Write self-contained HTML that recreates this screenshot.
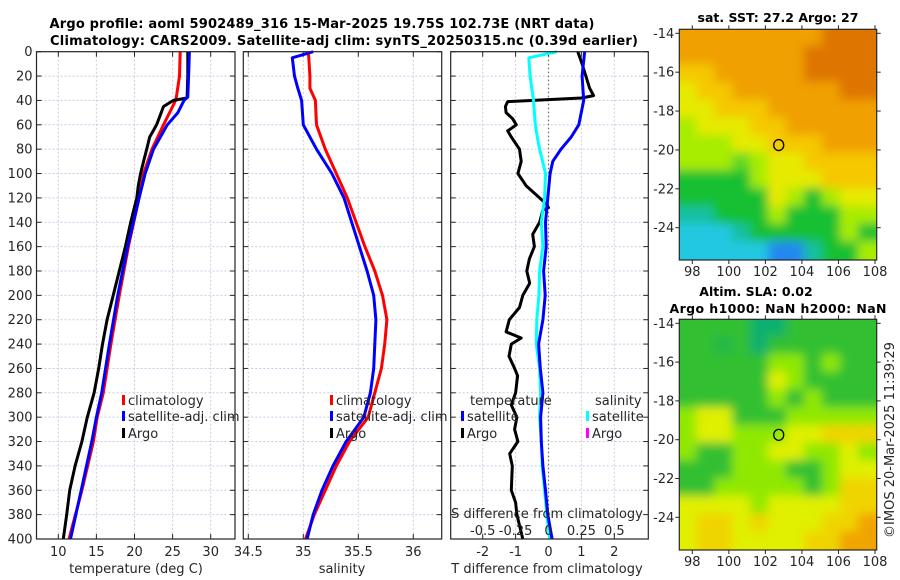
<!DOCTYPE html>
<html><head><meta charset="utf-8"><style>
html,body{margin:0;padding:0;background:#fff;}
svg{display:block;font-family:"DejaVu Sans","Liberation Sans",sans-serif;}
</style></head><body>
<svg id="fig" width="900" height="580" viewBox="0 0 900 580" xmlns="http://www.w3.org/2000/svg">
<defs>
<filter id="blur1" filterUnits="userSpaceOnUse" x="660" y="0" width="240" height="580"><feGaussianBlur stdDeviation="5"/></filter>
<clipPath id="clipM1"><rect x="679.3" y="29.3" width="197.4" height="230.7"/></clipPath>
<clipPath id="clipM2"><rect x="679.3" y="319.3" width="197.4" height="230.7"/></clipPath>
</defs>
<text x="322" y="28" font-size="13" font-weight="bold" text-anchor="middle" textLength="545">Argo profile: aoml 5902489_316 15-Mar-2025 19.75S 102.73E (NRT data)</text>
<text x="344" y="45" font-size="13" font-weight="bold" text-anchor="middle" textLength="588">Climatology: CARS2009. Satellite-adj clim: synTS_20250315.nc (0.39d earlier)</text>
<g id="g"></g>
</svg>
<script>
// ---- data ----
// panel 1 temperature (deg C)
const tDepth = [0,20,37,40,50,60,80,100,120,160,200,240,280,300,320,360,400];
const tempClim = [26.0,25.9,25.5,25.4,24.6,23.8,22.3,21.2,20.6,19.2,18.0,16.9,15.9,15.1,14.6,13.1,11.4];
const tempSat  = [27.2,27.1,27.0,26.5,25.7,24.3,22.5,21.4,20.6,19.1,17.8,16.7,15.7,15.0,14.4,13.0,11.6];
const argoDepth = [0,20,38,40,45,60,70,80,90,100,110,120,140,160,180,200,220,240,260,280,300,320,340,360,380,400];
const tempArgo  = [27.0,27.0,26.9,25.1,23.8,22.9,22.0,21.6,21.2,20.8,20.5,20.3,19.5,18.8,18.0,17.2,16.4,15.8,15.3,14.7,13.8,13.1,12.2,11.5,11.1,10.65];
// panel 2 salinity
const sDepth = [0,5,20,30,40,60,80,100,120,140,160,180,200,220,240,260,280,300,320,340,360,380,400];
const salClim = [35.045,35.05,35.06,35.06,35.11,35.12,35.20,35.30,35.40,35.48,35.56,35.65,35.72,35.76,35.74,35.71,35.65,35.59,35.42,35.30,35.20,35.10,35.02];
const salSat  = [35.09,34.90,34.92,34.95,34.985,35.00,35.12,35.26,35.37,35.44,35.51,35.58,35.64,35.66,35.65,35.64,35.61,35.55,35.39,35.27,35.17,35.09,35.035];
// panel 3 differences
const dDepth = [0,5,20,40,60,70,80,90,100,120,140,160,180,200,220,240,260,280,300,320,340,360,380,400];
const tDiffSat = [1.1,1.08,1.02,1.07,0.92,0.69,0.38,0.13,0.05,-0.02,-0.09,-0.07,-0.15,-0.1,-0.17,-0.3,-0.25,-0.17,-0.24,-0.22,-0.17,-0.09,-0.02,0.11];
const sDiffSat = [0.063,-0.15,-0.14,-0.114,-0.1,-0.085,-0.068,-0.045,-0.023,-0.03,-0.055,-0.043,-0.068,-0.073,-0.089,-0.093,-0.068,-0.06,-0.068,-0.055,-0.048,-0.03,-0.013,0.008];
const adDepth = [0,10,30,36,38,41,45,50,55,60,65,70,80,90,100,110,120,125,128,130,140,150,160,170,180,190,200,210,220,230,235,240,250,260,266,280,290,300,310,320,330,340,360,370,380,400];
const tDiffArgo = [0.89,1.02,1.25,1.37,1.0,-1.24,-1.31,-1.29,-1.09,-0.98,-1.24,-1.13,-0.88,-0.83,-0.93,-0.68,-0.27,-0.07,0.0,-0.17,-0.27,-0.48,-0.43,-0.58,-0.66,-0.57,-0.78,-0.88,-1.19,-1.29,-0.83,-1.13,-1.2,-1.03,-0.94,-1.0,-1.13,-0.96,-1.03,-0.93,-1.18,-1.1,-1.13,-1.0,-0.96,-0.78];
const depthTicks = [0,20,40,60,80,100,120,140,160,180,200,220,240,260,280,300,320,340,360,380,400];
const tempTicks = [10,15,20,25,30];
const salTicks = [34.5,35,35.5,36];
const tdTicks = [-2,-1,0,1,2];
const sdTicks = [-0.5,-0.25,0,0.25,0.5];
const sdTickLabels = ['-0.5','-0.25','0','0.25','0.5'];
const lonTicks = [98,100,102,104,106,108];
const latTicks = [-14,-16,-18,-20,-22,-24];
// map colour grids (rows north->south, cols west->east)
const sstGrid = ["ooooooooOOO","oooooooOOOO","YYoooooOOOO","yYYooooooOO","yyYYYoooooo","LyyyYYooooo","LLLyyYYYooo","LLLgLyyYYYY","GGGGLyyyYYY","GGGGGyLGLyy","TTGGGLGGGLL","CCCTGGGGGLG","CCCCCBBTGGL"];
const slaGrid = ["GGGGTTGGGGG","GGgGTGGGGGG","GGGGGLLGLGG","GGGGGyLGGGG","GGGGGLGLGGG","LyyGGGLLLLL","LyyLLLyyYYY","LGGLLyyLLyL","GGGLLLGGLyy","GGLLLLLGLYY","yyyyLyyyyYY","yYYyYyyyYYO","yYYyyyyYYOO"];
const sstColors = {O:'#de7400',o:'#f0a000',Y:'#f5c800',y:'#e6ea00',L:'#a8ec00',g:'#60d820',G:'#18c030',T:'#18c0a0',C:'#20c8e0',B:'#2088f0'};
const slaColors = {G:'#30c030',g:'#28b848',T:'#10b070',L:'#90e800',y:'#e0f000',Y:'#f0d400',O:'#f0a400'};

// ---- helpers ----
const NS='http://www.w3.org/2000/svg';
const G=document.getElementById('g');
function mk(tag,attrs,parent){const e=document.createElementNS(NS,tag);for(const k in attrs)e.setAttribute(k,attrs[k]);(parent||G).appendChild(e);return e;}
function txt(x,y,s,size,anchor,parent){const e=mk('text',{x:x,y:y,'font-size':size||12,'text-anchor':anchor||'middle',fill:'#262626'},parent);e.textContent=s;return e;}
const Y0=51.7,Y1=539;
function yD(d){return Y0+(d/400)*(Y1-Y0);}
function lin(d0,d1,p0,p1){return v=>p0+(v-d0)/(d1-d0)*(p1-p0);}
const xT=lin(10,30,58.3,210.7);
const xS=lin(35,36,303.3,413.3);
const xTD=lin(-2,2,482.7,614.3);
const xSD=lin(-0.5,0.5,482.7,614.3);
const P1={l:36.5,r:235}, P2={l:243.3,r:441.7}, P3={l:450.7,r:648.3};

function panel(P,xTicksPx,name,showYLabels){
  const grp=mk('g',{});
  
  
  depthTicks.forEach(d=>{
    const y=yD(d);
    const l=mk('line',{x1:P.l,x2:P.r,y1:y,y2:y,stroke:'#c4cce8','stroke-width':1,'stroke-dasharray':'2,2'},grp);
    
    
    mk('line',{x1:P.l,x2:P.l+5,y1:y,y2:y,stroke:'#262626'},grp);
    mk('line',{x1:P.r,x2:P.r-5,y1:y,y2:y,stroke:'#262626'},grp);
    if(showYLabels){const t=txt(P.l-4,y+4.5,String(d),13,'end',grp);
      
      }
  });
  xTicksPx.forEach(x=>{
    const l=mk('line',{x1:x,x2:x,y1:Y0,y2:Y1,stroke:'#d8c8d8','stroke-width':1,'stroke-dasharray':'2,2'},grp);
    
    
    mk('line',{x1:x,x2:x,y1:Y1,y2:Y1-5,stroke:'#262626'},grp);
    mk('line',{x1:x,x2:x,y1:Y0,y2:Y0+5,stroke:'#262626'},grp);
  });
  return grp;
}
function frame(P,name){const r=mk('rect',{x:P.l,y:Y0,width:P.r-P.l,height:Y1-Y0,fill:'none',stroke:'#262626','stroke-width':1.2});
  
  }
function line(xs,ds,xf,color,name,w){
  const pts=xs.map((v,i)=>xf(v).toFixed(1)+','+yD(ds[i]).toFixed(1)).join(' ');
  const p=mk('polyline',{points:pts,fill:'none',stroke:color,'stroke-width':w||3,'stroke-linejoin':'round'});
  
  
  return p;
}
function legendEntry(x,y,color,label,name){
  const g=mk('g',{});
  
  
  mk('rect',{x:x,y:y-10,width:3,height:10,fill:color},g);
  txt(x+6,y,label,13,'start',g);
}

// panel 1
panel(P1,tempTicks.map(xT),'temperature-panel',true);
line(tempClim,tDepth,xT,'#ff0000','temp-climatology-line');
line(tempArgo,argoDepth,xT,'#000000','temp-argo-line');
line(tempSat,tDepth,xT,'#0000ff','temp-satellite-line');
frame(P1,'temperature-axes');
tempTicks.forEach(v=>{const t=txt(xT(v),556,String(v),13);});
(function(){const t=txt(136,573,'temperature (deg C)',13);})();
legendEntry(122,405,'#ff0000','climatology','legend-climatology');
legendEntry(122,421,'#0000ff','satellite-adj. clim','legend-satellite-adj');
legendEntry(122,438,'#000000','Argo','legend-argo');

// panel 2
panel(P2,salTicks.map(xS),'salinity-panel',false);
line(salClim,sDepth,xS,'#ff0000','sal-climatology-line');
line(salSat,sDepth,xS,'#0000ff','sal-satellite-line');
frame(P2,'salinity-axes');
salTicks.forEach(v=>{const t=txt(xS(v),556,String(v),13);});
(function(){const t=txt(342,573,'salinity',13);})();
legendEntry(330,405,'#ff0000','climatology','legend-sal-climatology');
legendEntry(330,421,'#0000ff','satellite-adj. clim','legend-sal-satellite-adj');
legendEntry(330,438,'#000000','Argo','legend-sal-argo');

// panel 3
panel(P3,tdTicks.map(xTD),'difference-panel',false);
(function(){const l=mk('line',{x1:xTD(0),x2:xTD(0),y1:Y0,y2:Y1,stroke:'#4a5020','stroke-width':1.2,'stroke-dasharray':'1,3'});
})();
line(tDiffArgo,adDepth,xTD,'#000000','tdiff-argo-line');
line(sDiffSat,dDepth,xSD,'#00ffff','sdiff-satellite-line');
line(tDiffSat,dDepth,xTD,'#0000ff','tdiff-satellite-line');
frame(P3,'difference-axes');
tdTicks.forEach(v=>{const t=txt(xTD(v),556,String(v),13);});
sdTicks.forEach((v,i)=>{const t=txt(xSD(v),535,sdTickLabels[i],13);});
(function(){const t=txt(547,518,'S difference from climatology',13);
const t2=txt(547,573,'T difference from climatology',13);
const h1=txt(470,405,'temperature',13,'start');
const h2=txt(595,405,'salinity',13,'start');})();
legendEntry(461,421,'#0000ff','satellite','legend-temp-satellite');
legendEntry(461,438,'#000000','Argo','legend-temp-argo');
legendEntry(586,421,'#00ffff','satellite','legend-sal-satellite');
legendEntry(586,438,'#ff00ff','Argo','legend-sal-argo-diff');

// maps
const xLon=lin(98,108,692.3,875);
function drawMap(top,bottom,lat14y,lat24y,grid,colors,clip,name,circleLat){
  const yLat=lin(-14,-24,lat14y,lat24y);
  const grp=mk('g',{});
  
  
  const img=mk('g',{'clip-path':'url(#'+clip+')'},grp);
  const inner=mk('g',{filter:'url(#blur1)'},img);
  const rows=grid.length, cols=grid[0].length;
  const L=679.3,W=197.4,H=bottom-top;
  const cw=W/cols, ch=H/rows;
  for(let r=0;r<rows;r++)for(let c=0;c<cols;c++){
    // extend edge cells outward so blur doesn't fade at borders
    const x0=L+c*cw-(c===0?12:1), y0=top+r*ch-(r===0?12:1);
    const w=cw+2+(c===0?11:0)+(c===cols-1?12:0), h=ch+2+(r===0?11:0)+(r===rows-1?12:0);
    mk('rect',{x:x0,y:y0,width:w,height:h,fill:colors[grid[r][c]]},inner);
  }
  mk('rect',{x:L,y:top,width:W,height:H,fill:'none',stroke:'#262626','stroke-width':1.2},grp);
  lonTicks.forEach(v=>{const x=xLon(v);mk('line',{x1:x,x2:x,y1:bottom,y2:bottom+4,stroke:'#262626'},grp);mk('line',{x1:x,x2:x,y1:top,y2:top-4,stroke:'#262626'},grp);
    const t=txt(x,bottom+16,String(v),13,'middle',grp);});
  latTicks.forEach(v=>{const y=yLat(v);mk('line',{x1:L,x2:L-4,y1:y,y2:y,stroke:'#262626'},grp);mk('line',{x1:L+W,x2:L+W+4,y1:y,y2:y,stroke:'#262626'},grp);
    const t=txt(L-5,y+4.5,String(v),13,'end',grp);});
  const c=mk('ellipse',{cx:xLon(102.73),cy:yLat(circleLat),rx:5,ry:5.5,fill:'none',stroke:'#000','stroke-width':1.3},grp);
  
  
}
drawMap(29.3,260,33.3,227.7,sstGrid,sstColors,'clipM1','sst-map',-19.75);
drawMap(319.3,550,323.3,517.3,slaGrid,slaColors,'clipM2','sla-map',-19.75);
(function(){
const a=mk('text',{x:778,y:22,'font-size':12.5,'font-weight':'bold','text-anchor':'middle',fill:'#000'});a.textContent='sat. SST: 27.2 Argo: 27';

const b=mk('text',{x:756,y:296,'font-size':12.5,'font-weight':'bold','text-anchor':'middle',fill:'#000'});b.textContent='Altim. SLA: 0.02';

const c=mk('text',{x:778,y:313,'font-size':12.5,'font-weight':'bold','text-anchor':'middle',fill:'#000',textLength:217});c.textContent='Argo h1000: NaN h2000: NaN';

const d=mk('text',{x:0,y:0,'font-size':13,'text-anchor':'middle',fill:'#262626',transform:'translate(894,440) rotate(-90)'});d.textContent='©IMOS 20-Mar-2025 11:39:29';

})();
</script>
</body></html>
